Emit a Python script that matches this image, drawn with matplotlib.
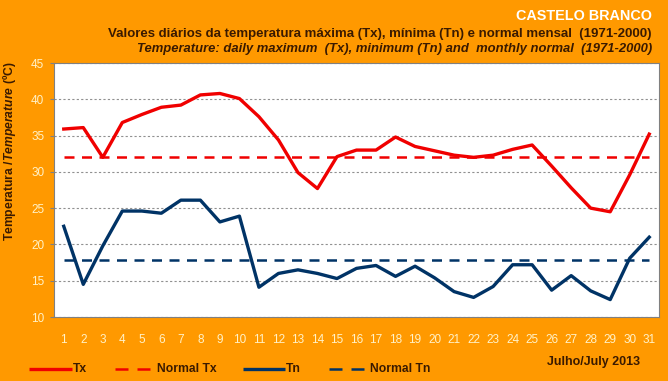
import matplotlib
matplotlib.use("Agg")
import matplotlib.pyplot as plt
from matplotlib.lines import Line2D

days = list(range(1, 32))
tx = [35.9, 36.1, 32.0, 36.8, 37.9, 38.9, 39.2, 40.6, 40.8, 40.1,
      37.6, 34.4, 29.9, 27.7, 32.1, 33.0, 33.0, 34.8, 33.5, 32.9,
      32.3, 32.0, 32.3, 33.1, 33.7, 30.8, 27.8, 25.0, 24.5, 29.6, 35.2]
tn = [22.5, 14.5, 19.8, 24.6, 24.6, 24.3, 26.1, 26.1, 23.1, 23.9,
      14.1, 16.0, 16.5, 16.0, 15.3, 16.7, 17.1, 15.6, 17.0, 15.4,
      13.5, 12.7, 14.2, 17.2, 17.2, 13.7, 15.7, 13.6, 12.4, 18.1, 21.0]
normal_tx = 32.1
normal_tn = 17.9
yticks = [10, 15, 20, 25, 30, 35, 40, 45]

fam = ["Liberation Sans", "DejaVu Sans"]
plt.rcParams['font.family'] = fam
plt.rcParams['mathtext.fontset'] = 'custom'
plt.rcParams['mathtext.it'] = 'Liberation Sans:bold:italic'
plt.rcParams['mathtext.rm'] = 'Liberation Sans:bold'

ORANGE = "#FF9900"
DARK = "#3A1A00"
CREAM = "#FFF2C8"
RED = "#F00000"
NAVY = "#003366"

fig = plt.figure(figsize=(6.68, 3.81), dpi=100, facecolor=ORANGE)
ax = fig.add_axes([54/668, 1-317/381, 605/668, 254/381])
ax.set_facecolor("white")

ax.plot(days, tx, color=RED, lw=2.4, solid_joinstyle='round')
ax.plot(days, tn, color=NAVY, lw=2.4, solid_joinstyle='round')
ax.plot(days, [normal_tx]*len(days), color=RED, lw=1.8, dashes=(4.0, 3.0))
ax.plot(days, [normal_tn]*len(days), color=NAVY, lw=1.8, dashes=(4.0, 3.0))

ax.set_xlim(0.5, 31.5)
ax.set_ylim(10, 45)
ax.set_yticks(yticks)
ax.set_xticks(days)
ax.set_xticklabels([str(d) for d in days])
ax.tick_params(axis='x', length=0, pad=12, labelsize=8.5, labelcolor=CREAM)
ax.tick_params(axis='y', length=3, width=0.8, color="#808080", pad=4, labelsize=8.5, labelcolor=CREAM)
ax.yaxis.grid(True, color="#909090", linestyle=(0, (2, 2)), lw=0.8)
for s in ax.spines.values():
    s.set_color("#808080")
    s.set_linewidth(0.8)

fig.text(10/668, 1-151/381, r"Temperatura /$Temperature$ (ºC)", rotation=90,
         ha='center', va='center', fontsize=8.7, fontweight='bold', color=DARK)

fig.text(652/668, 1-16/381, "CASTELO BRANCO", ha='right', va='center',
         fontsize=10.4, fontweight='bold', color="white")
fig.text(652/668, 1-34/381, "Valores diários da temperatura máxima (Tx), mínima (Tn) e normal mensal  (1971-2000)",
         ha='right', va='center', fontsize=9.5, fontweight='bold', color=DARK)
fig.text(652/668, 1-49/381, "Temperature: daily maximum  (Tx), minimum (Tn) and  monthly normal  (1971-2000)",
         ha='right', va='center', fontsize=9.4, fontweight='bold', style='italic', color=DARK)

fig.text(640/668, 1-362/381, "Julho/July 2013", ha='right', va='center',
         fontsize=9, fontweight='bold', color=DARK)

# legend
ly = 1-369/381
items = [(29, 72, RED, False, "Tx", 73),
         (115, 150, RED, True, "Normal Tx", 157),
         (243, 285, NAVY, False, "Tn", 286),
         (329, 364, NAVY, True, "Normal Tn", 370)]
for x0, x1, c, dashed, lab, tx_ in items:
    if dashed:
        ln = Line2D([x0/668, (x1+1)/668], [ly, ly], transform=fig.transFigure, color=c,
                    lw=1.8, dashes=(5.2, 3.6))
    else:
        ln = Line2D([x0/668, x1/668], [ly, ly], transform=fig.transFigure, color=c,
                    lw=2.4, solid_capstyle='butt')
    fig.add_artist(ln)
    fig.text(tx_/668, ly, lab, ha='left', va='center', fontsize=8.7, fontweight='bold', color=DARK)

fig.savefig("out.png", dpi=100, facecolor=ORANGE)
